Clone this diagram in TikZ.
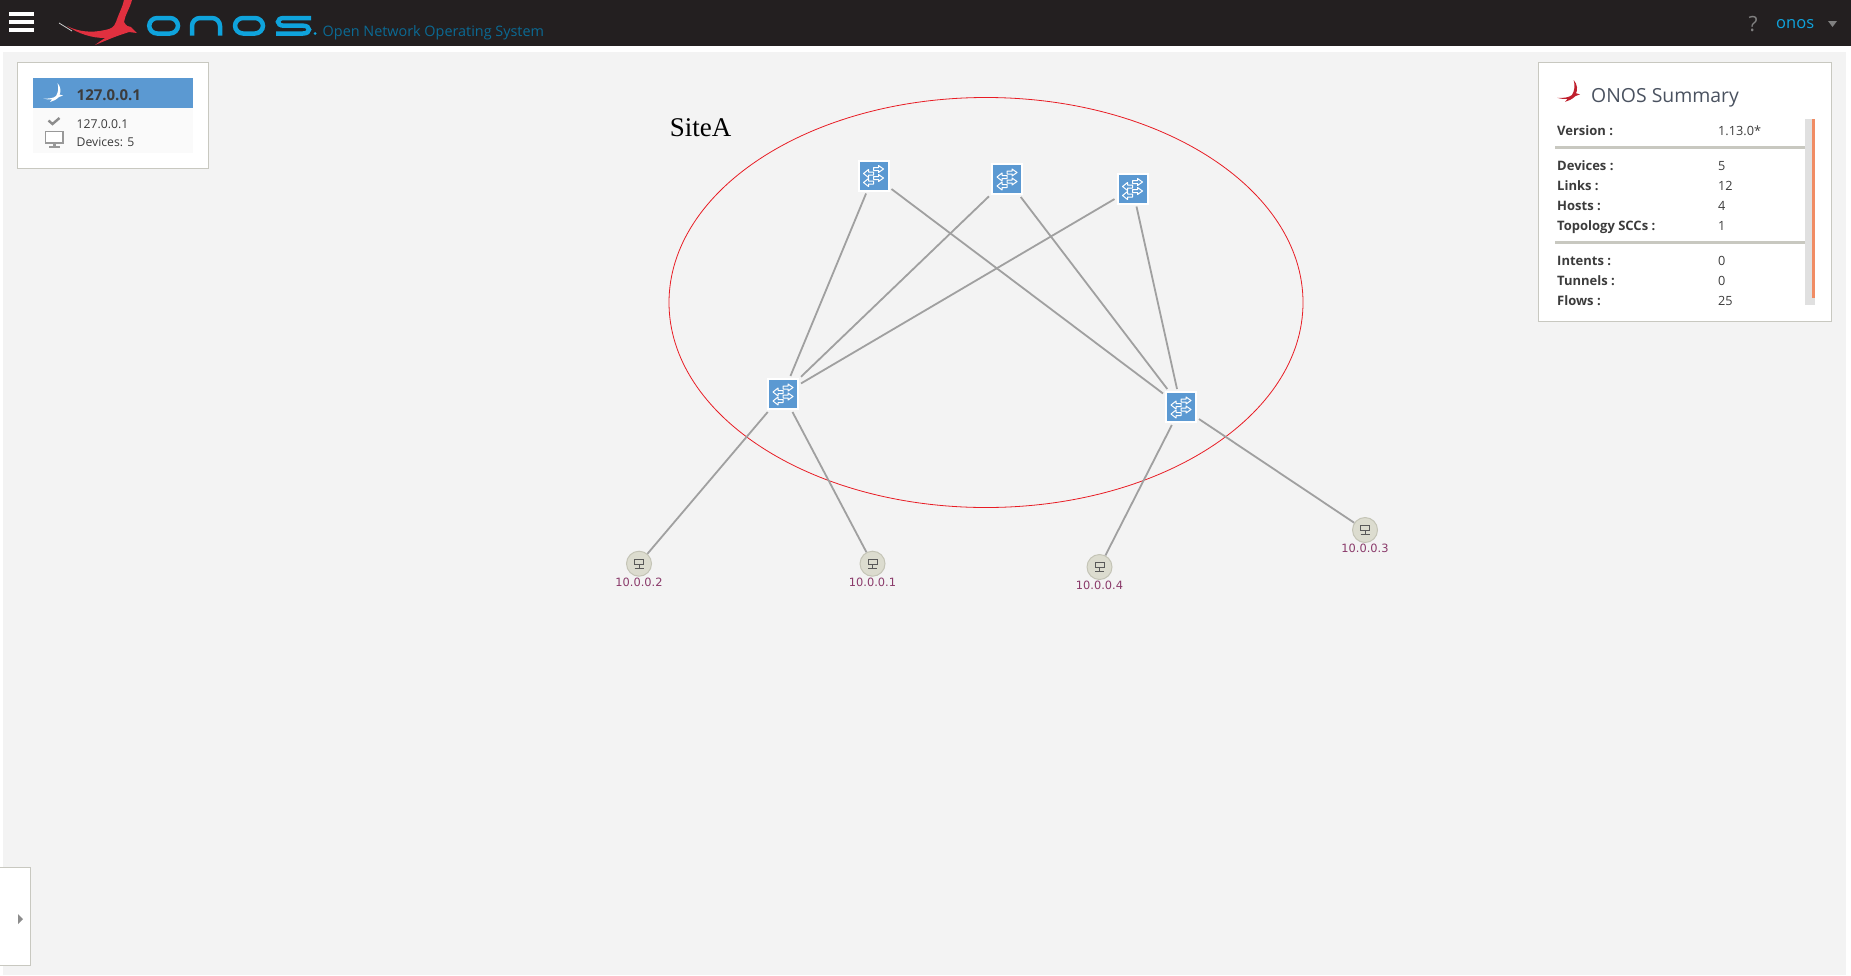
\documentclass[tikz,border=0pt]{standalone}
\usepackage{fontspec}
\setmainfont{Open Sans}
\newfontfamily\hostfont{DejaVu Sans}
\newfontfamily\sitefont{Liberation Serif}
\newcommand\fsz[1]{\fontsize{#1}{#1}\selectfont}
\definecolor{hdr}{HTML}{231F20}
\definecolor{pagebg}{HTML}{F3F3F3}
\definecolor{frame}{HTML}{C8C8C0}
\definecolor{swblue}{HTML}{5B99D2}
\definecolor{linkgr}{HTML}{A0A0A0}
\definecolor{onosblue}{HTML}{0FA3DC}
\definecolor{tagblue}{HTML}{0B6A94}
\definecolor{txt}{HTML}{3C3C3C}
\definecolor{titletxt}{HTML}{4A5260}
\definecolor{hostlab}{HTML}{8A3A6A}
\definecolor{birdred}{HTML}{E0303F}
\definecolor{birddark}{HTML}{C0202E}
\definecolor{hostfillc}{HTML}{DCDCCF}
\definecolor{hostedgec}{HTML}{C4C4B6}
\definecolor{sitered}{HTML}{E81C24}
\definecolor{thumb}{HTML}{F08C64}
\tikzset{
  panel/.style={draw=frame,line width=1pt,fill=white},
  switchbox/.style={fill=swblue,draw=white,line width=2pt,minimum size=30pt,inner sep=0pt,outer sep=3pt},
  hostdot/.style={circle,fill=hostfillc,draw=hostedgec,line width=1pt,minimum size=25pt,inner sep=0pt,outer sep=0.5pt},
  link/.style={draw=linkgr,line width=1.8pt},
  hostlabel/.style={font=\hostfont\fsz{11.4},text=hostlab,inner sep=0pt},
  rowlabel/.style={anchor=base west,inner sep=0pt,text=txt,font=\bfseries\fsz{13}},
  rowvalue/.style={anchor=base west,inner sep=0pt,text=txt,font=\fsz{12.7}},
  logostroke/.style={draw=onosblue,line width=4.5pt},
  pics/bird/.style={code={
    \path[pic actions] (0,26) .. controls (12,32) and (25,33) .. (38,30) .. controls (44,29) and (47,27) .. (49,22) .. controls (52,13) and (56,6) .. (57,0) -- (65,0) .. controls (63,8) and (58,15) .. (57,22) .. controls (59,26) and (62,27) .. (64,27) -- (70,33) -- (62,32) .. controls (56,34) and (50,36) .. (45,38) -- (28,45) .. controls (32,42) and (35,40) .. (38,38) .. controls (25,38) and (12,34) .. (0,26) -- cycle;
  }},
  pics/smallbird/.style={code={
    \path[pic actions] (0,15.5) .. controls (6,16) and (11,15) .. (13,13) .. controls (15,10) and (16,5) .. (14.5,0) .. controls (18,4) and (18,9) .. (16.5,11.5) -- (20,12.5) -- (16,14) .. controls (13,17) and (10,18) .. (7,19) -- (9,16.5) .. controls (6,16.5) and (3,16.5) .. (0,15.5) -- cycle;
  }},
  pics/swicon/.style={code={
    \begin{scope}[draw=white,line width=1pt,fill=none,line join=round]
      \draw (0,-8) -- (5,-8) -- (5,-10) -- (10,-6.5) -- (5,-3) -- (5,-5) -- (0,-5) -- cycle;
      \draw (0,-3.5) -- (-5,-3.5) -- (-5,-6) -- (-10,-2) -- (-5,2) -- (-5,-0.5) -- (0,-0.5) -- cycle;
      \draw (0,1) -- (5,1) -- (5,-1) -- (10,2.5) -- (5,6) -- (5,4) -- (0,4) -- cycle;
      \draw (0,5.5) -- (-5,5.5) -- (-5,3) -- (-10,7) -- (-5,11) -- (-5,8.5) -- (0,8.5) -- cycle;
    \end{scope}
  }},
  pics/hosticon/.style={code={
    \draw[draw=black!65,line width=0.9pt] (-4.5,-4.5) rectangle (4.5,0.5);
    \draw[draw=black!65,line width=0.9pt] (0,0.5) -- (0,4.3);
    \draw[draw=black!65,line width=0.9pt] (-4.5,4.3) -- (4.5,4.3);
  }},
}
\begin{document}
\begin{tikzpicture}[x=1pt,y=-1pt]
\useasboundingbox (0,0) rectangle (1851,975);
\fill[white] (0,0) rectangle (1851,975);
\fill[pagebg] (3,52) rectangle (1846,975);
\fill[hdr] (0,0) rectangle (1851,46);
% menu
\fill[white] (9,12) rectangle (34,16);
\fill[white] (9,20) rectangle (34,24);
\fill[white] (9,28) rectangle (34,32);
% logo
\pic[fill=birdred] at (67,0) {bird};
\draw[white!80!black,line width=0.8pt] (59,23) -- (72,31);
\draw[logostroke,rounded corners=8pt] (149.2,18) rectangle (178,33.5);
\draw[logostroke,rounded corners=8pt] (192,35.7) -- (192,18) -- (220,18) -- (220,35.7);
\draw[logostroke,rounded corners=8pt] (235,18) rectangle (263,33.5);
\draw[logostroke] (311,18) -- (284,18) .. controls (276,18) and (276,25.7) .. (284,25.7) -- (303,25.7) .. controls (311,25.7) and (311,33.5) .. (303,33.5) -- (276,33.5);
\fill[onosblue] (315,33.5) circle (1.5);
\node[anchor=base west,inner sep=0pt,text=tagblue,font=\fsz{14.4}] (tag) at (322.5,36.5) {Open Network Operating System};
% header right
\node[anchor=base,text=black!50,font=\fsz{21},inner sep=0pt] (help) at (1753,31) {?};
\node[anchor=base west,inner sep=0pt,text=onosblue,font=\fsz{16.5}] (user) at (1776,28) {onos};
\fill[black!50] (1828,21) -- (1837,21) -- (1832.5,27) -- cycle;
% cluster panel
\draw[panel] (17.5,62.5) rectangle (208.5,168.5);
\fill[white!98!black] (33,108) rectangle (193,153);
\fill[swblue] (33,78) rectangle (193,108);
\pic[fill=white] at (43,83) {smallbird};
\node[anchor=west,inner sep=0pt,text=txt,font=\bfseries\fsz{15}] (cname) at (76.5,95) {127.0.0.1};
\node[anchor=west,inner sep=0pt,text=txt,font=\fsz{12.2}] (cip) at (76.5,124) {127.0.0.1};
\node[anchor=west,inner sep=0pt,text=txt,font=\fsz{12.2}] (cdev) at (76.5,142) {Devices: 5};
\draw[black!45,line width=2.4pt] (48.5,120.5) -- (52.5,124) -- (59.5,118);
\draw[black!40,line width=1.4pt,fill=white] (45.5,131.5) rectangle (63,143);
\fill[black!40] (52.5,143) rectangle (56,146);
\fill[black!40] (49,146) rectangle (59.5,148);
% summary panel
\draw[panel] (1538.5,62.5) rectangle (1831.5,321);
\pic[fill=birddark,scale=1.15] at (1557,80) {smallbird};
\node[anchor=base west,inner sep=0pt,text=titletxt,font=\fsz{19.4}] (stitle) at (1591,102) {ONOS Summary};
\fill[black!12] (1805,119) rectangle (1815,305);
\fill[thumb] (1812,119) rectangle (1815,298);
\fill[frame] (1555,146) rectangle (1805,149);
\fill[frame] (1555,241) rectangle (1805,244);
\node[rowlabel] (l1) at (1557,135.2) {Version :};
\node[rowvalue] (v1) at (1718,135.2) {1.13.0*};
\node[rowlabel] (l2) at (1557,170.2) {Devices :};
\node[rowvalue] (v2) at (1718,170.2) {5};
\node[rowlabel] (l3) at (1557,190.2) {Links :};
\node[rowvalue] (v3) at (1718,190.2) {12};
\node[rowlabel] (l4) at (1557,210.2) {Hosts :};
\node[rowvalue] (v4) at (1718,210.2) {4};
\node[rowlabel] (l5) at (1557,230.2) {Topology SCCs :};
\node[rowvalue] (v5) at (1718,230.2) {1};
\node[rowlabel] (l6) at (1557,265.2) {Intents :};
\node[rowvalue] (v6) at (1718,265.2) {0};
\node[rowlabel] (l7) at (1557,285.2) {Tunnels :};
\node[rowvalue] (v7) at (1718,285.2) {0};
\node[rowlabel] (l8) at (1557,305.2) {Flows :};
\node[rowvalue] (v8) at (1718,305.2) {25};
% bottom drawer
\draw[panel] (-2,867.5) rectangle (30.5,965.5);
\fill[black!45] (18,914) -- (23,919) -- (18,924) -- cycle;
% site
\draw[draw=sitered,line width=0.8pt] (986,302.5) ellipse [x radius=317,y radius=205];
\node[text=black,font=\sitefont\fsz{27},inner sep=0pt] (site) at (700.5,128) {SiteA};
% switches
\node[switchbox] (s1) at (873.5,175.5) {};
\node[switchbox] (s2) at (1007,179) {};
\node[switchbox] (s3) at (1132.5,188.5) {};
\node[switchbox] (s4) at (783,394) {};
\node[switchbox] (s5) at (1181,407) {};
\foreach \n in {s1,s2,s3,s4,s5} \pic at (\n) {swicon};
% hosts
\node[hostdot] (h2) at (639,563.7) {};
\node[hostdot] (h1) at (872.5,563.7) {};
\node[hostdot] (h4) at (1099.5,567) {};
\node[hostdot] (h3) at (1365,530) {};
\foreach \n in {h1,h2,h3,h4} \pic at (\n) {hosticon};
\node[hostlabel] (h2l) at (639,582) {10.0.0.2};
\node[hostlabel] (h1l) at (872.5,582) {10.0.0.1};
\node[hostlabel] (h4l) at (1099.5,585) {10.0.0.4};
\node[hostlabel] (h3l) at (1365,548) {10.0.0.3};
% links
\foreach \a/\b in {s1/s4,s1/s5,s2/s4,s2/s5,s3/s4,s3/s5,s4/h2,s4/h1,s5/h4,s5/h3}
  \draw[link] (\a) -- (\b);
\end{tikzpicture}
\end{document}
